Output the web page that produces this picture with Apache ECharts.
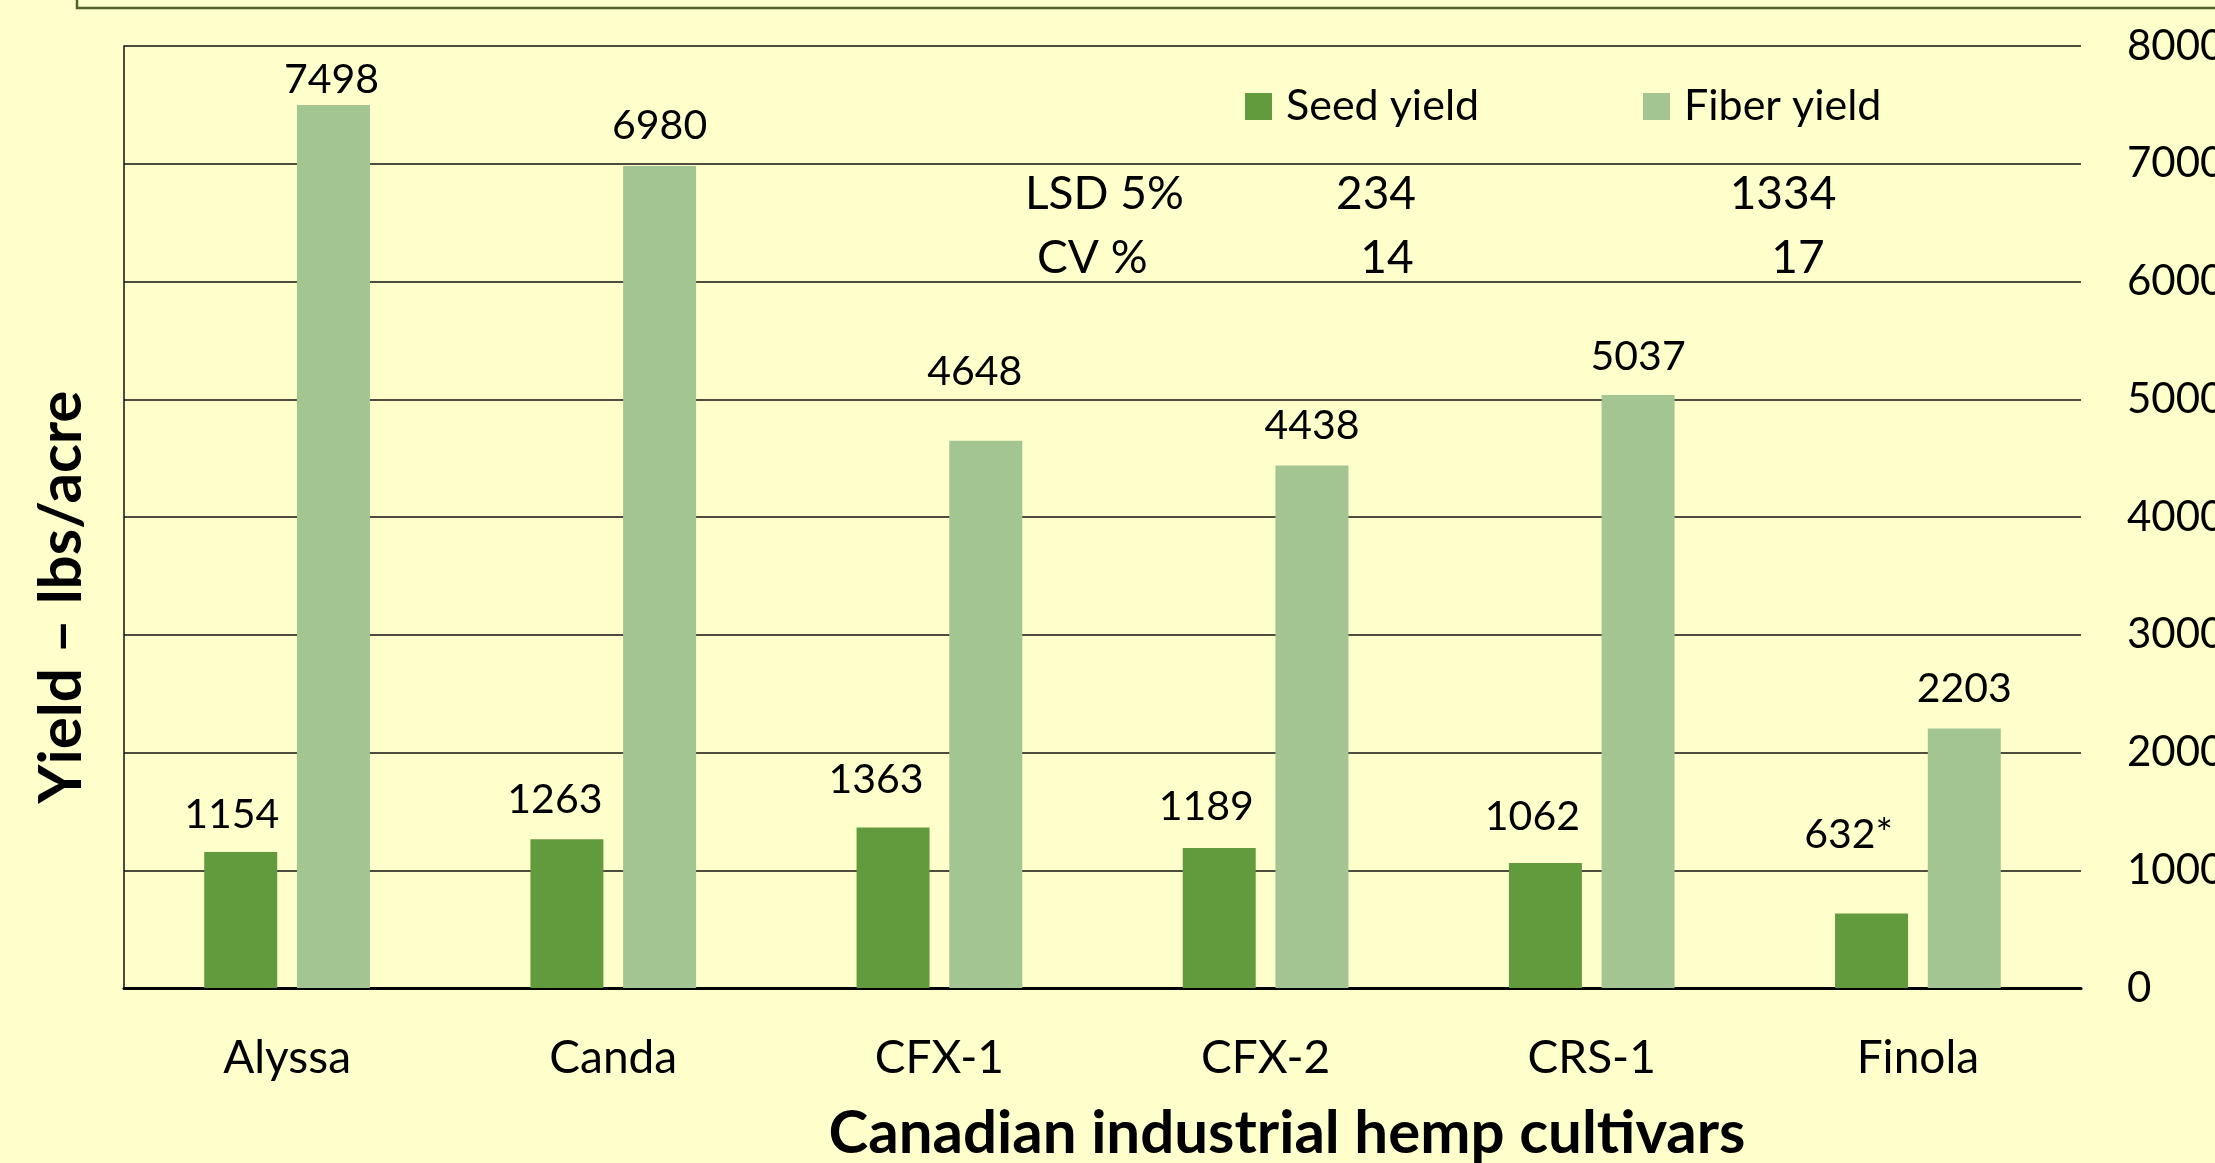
<!DOCTYPE html>
<html>
<head>
<meta charset="utf-8">
<script src="https://cdn.jsdelivr.net/npm/echarts@6/dist/echarts.min.js"></script>
<style>
  html, body { margin: 0; padding: 0; background: #FFFFCC; }
  #chart { width: 2215px; height: 1163px; }
</style>
</head>
<body>
<div id="chart"></div>
<script>
// data
const cultivars = ['Alyssa', 'Canda', 'CFX-1', 'CFX-2', 'CRS-1', 'Finola']
const seedYield = [1154, 1263, 1363, 1189, 1062, 632]
const fiberYield = [7498, 6980, 4648, 4438, 5037, 2203]
const seedNotes = ['', '', '', '', '', '*']
const yMin = 0
const yMax = 8000
const yStep = 1000
const statNames = ['LSD 5%', 'CV %']
const statSeed = [234, 14]
const statFiber = [1334, 17]

const FONT = 'Lato'
const SEED_COLOR = '#629A3E'
const FIBER_COLOR = '#A2C592'

// the value labels on the slide were placed by hand: [dx, gap above bar]
const seedLabelPos = [[-9, 22], [-12, 24], [-17, 32], [-13, 26], [-13, 31], [-23, 63]]
const fiberLabelPos = [[-2, 10], [0, 25], [-11, 53], [0, 24], [0, 23], [0, 24]]

const withLabels = (values, pos) => values.map((v, i) => ({
  value: v,
  label: {
    distance: pos[i][1] - 5,
    offset: [pos[i][0], 0]
  }
}))

const chart = echarts.init(document.getElementById('chart'))

const labelStyle = {
  show: true,
  position: 'top',
  color: '#000',
  fontFamily: FONT,
  fontSize: 41
}

const statText = []
statNames.forEach((name, i) => {
  const y = i === 0 ? 194 : 258
  statText.push({
    type: 'text', left: i === 0 ? 1025 : 1037, top: y - 23,
    style: { text: name, font: `46px ${FONT}`, fill: '#000' }
  })
  statText.push({
    type: 'text', x: i === 0 ? 1376 : 1387, y: y,
    style: { text: String(statSeed[i]), font: `46px ${FONT}`, fill: '#000', align: 'center', verticalAlign: 'middle' }
  })
  statText.push({
    type: 'text', x: i === 0 ? 1783 : 1798, y: y,
    style: { text: String(statFiber[i]), font: `46px ${FONT}`, fill: '#000', align: 'center', verticalAlign: 'middle' }
  })
})

const legendBase = {
  top: 85,
  padding: 0,
  itemWidth: 27,
  itemHeight: 27,
  icon: 'rect',
  textStyle: { fontFamily: FONT, fontSize: 43, color: '#000', padding: [0, 0, 0, 9] }
}

const option = {
  backgroundColor: '#FFFFCC',
  animation: false,
  grid: {
    left: 124,
    top: 46,
    right: 134,
    bottom: 175,
    containLabel: false,
    outerBoundsMode: 'none'
  },
  legend: [
    { ...legendBase, data: ['Seed yield'], left: 1245 },
    { ...legendBase, data: ['Fiber yield'], left: 1643 }
  ],
  xAxis: {
    type: 'category',
    data: cultivars,
    axisTick: { show: false },
    axisLine: { lineStyle: { color: '#000', width: 3 } },
    axisLabel: { color: '#000', fontFamily: FONT, fontSize: 46, margin: 47 },
    splitLine: { show: false }
  },
  yAxis: [{
    type: 'value',
    position: 'right',
    min: yMin,
    max: yMax,
    interval: yStep,
    axisLine: { show: false },
    axisTick: { show: false },
    axisLabel: {
      color: '#000', fontFamily: FONT, fontSize: 42, margin: 46, align: 'left',
      formatter: v => String(v)
    },
    splitLine: { lineStyle: { color: '#111', width: 1.5 } }
  }, {
    type: 'value',
    position: 'left',
    min: yMin,
    max: yMax,
    interval: yStep,
    axisLine: { show: true, lineStyle: { color: '#111', width: 1.5 } },
    axisTick: { show: false },
    axisLabel: { show: false },
    splitLine: { show: false }
  }],
  series: [{
    name: 'Seed yield',
    type: 'bar',
    barWidth: 73,
    barGap: '27%',
    itemStyle: { color: SEED_COLOR },
    label: { ...labelStyle, formatter: p => p.value + seedNotes[p.dataIndex] },
    data: withLabels(seedYield, seedLabelPos)
  }, {
    name: 'Fiber yield',
    type: 'bar',
    barWidth: 73,
    barGap: '27%',
    itemStyle: { color: FIBER_COLOR },
    label: labelStyle,
    data: withLabels(fiberYield, fiberLabelPos)
  }],
  graphic: [{
    type: 'rect',
    shape: { x: 77, y: -60, width: 2300, height: 68 },
    style: { fill: 'none', stroke: '#4F6228', lineWidth: 2.5 }
  }, {
    type: 'text',
    x: 62,
    y: 597,
    rotation: Math.PI / 2,
    style: { text: 'Yield – lbs/acre', font: `bold 60px ${FONT}`, fill: '#000', align: 'center', verticalAlign: 'middle' }
  }, {
    type: 'text',
    x: 1287,
    y: 1134,
    style: { text: 'Canadian industrial hemp cultivars', font: `bold 60px ${FONT}`, fill: '#000', align: 'center', verticalAlign: 'middle' }
  }, ...statText]
}

chart.setOption(option)
</script>
</body>
</html>
